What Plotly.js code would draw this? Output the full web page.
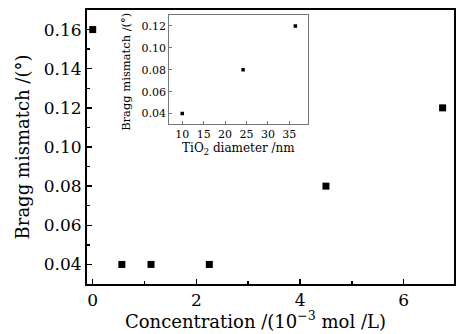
<!DOCTYPE html>
<html><head><meta charset="utf-8">
<script src="https://cdn.plot.ly/plotly-3.0.1.min.js"></script>
<style>html,body{margin:0;padding:0;background:#fff}</style>
</head><body><div id="chart" style="width:458px;height:334px"></div>
<script>
const concentration = [0, 0.5625, 1.125, 2.25, 4.5, 6.75];
const mismatchMain = [0.16, 0.04, 0.04, 0.04, 0.08, 0.12];
const diameter = [10, 24.2, 36.4];
const mismatchInset = [0.04, 0.08, 0.12];
const mainYTicks = [0.04, 0.06, 0.08, 0.10, 0.12, 0.14, 0.16];
const mainXTicks = [0, 2, 4, 6];
const insetYTicks = [0.04, 0.06, 0.08, 0.10, 0.12];
const insetXTicks = [10, 15, 20, 25, 30, 35];

const F = "DejaVu Serif, Liberation Serif, serif";
const traces = [
  {x: concentration, y: mismatchMain, type: 'scatter', mode: 'markers',
   marker: {symbol: 'square', size: 7, color: '#000'}, xaxis: 'x', yaxis: 'y', hoverinfo: 'none'},
  {x: diameter, y: mismatchInset, type: 'scatter', mode: 'markers',
   marker: {symbol: 'square', size: 3.5, color: '#000'}, xaxis: 'x2', yaxis: 'y2', hoverinfo: 'none'}
];
const layout = {
  width: 458, height: 334,
  margin: {l: 87, r: 4, t: 10, b: 50},
  paper_bgcolor: '#fff', plot_bgcolor: '#fff',
  showlegend: false,
  font: {family: F, color: '#000'},
  xaxis: {
    domain: [0, 1], range: [-0.11, 6.97],
    tickvals: mainXTicks, ticktext: mainXTicks.map(String),
    ticks: 'inside', ticklen: 5, tickwidth: 1.5, tickcolor: '#000',
    minor: {dtick: 1, ticks: 'inside', ticklen: 3, tickwidth: 1.5, tickcolor: '#000'},
    showline: true, linewidth: 2, linecolor: '#000', mirror: true,
    showgrid: false, zeroline: false,
    tickfont: {size: 17, family: F}
  },
  yaxis: {
    domain: [0, 1], range: [0.030, 0.170],
    tickvals: mainYTicks, ticktext: mainYTicks.map(v => v.toFixed(2)),
    ticks: 'inside', ticklen: 5, tickwidth: 1.5, tickcolor: '#000',
    minor: {dtick: 0.01, tick0: 0, ticks: 'inside', ticklen: 3, tickwidth: 1.5, tickcolor: '#000'},
    showline: true, linewidth: 2, linecolor: '#000', mirror: true,
    showgrid: false, zeroline: false,
    tickfont: {size: 17, family: F},
    title: {text: 'Bragg mismatch /(°)', font: {size: 18, family: F}, standoff: 9}
  },
  xaxis2: {
    domain: [0.224, 0.601], anchor: 'y2', range: [6.96, 39.25],
    tickvals: insetXTicks, ticktext: insetXTicks.map(String),
    ticks: 'inside', ticklen: 3, tickwidth: 1, tickcolor: '#777',
    showline: true, linewidth: 1, linecolor: '#777', mirror: true,
    showgrid: false, zeroline: false,
    tickfont: {size: 11, family: F},
    title: {text: 'TiO<sub>2</sub> diameter /nm', font: {size: 12, family: F}, standoff: 0}
  },
  yaxis2: {
    domain: [0.583, 0.982], anchor: 'x2', range: [0.0303, 0.130],
    tickvals: insetYTicks, ticktext: insetYTicks.map(v => v.toFixed(2)),
    ticks: 'inside', ticklen: 3, tickwidth: 1, tickcolor: '#777',
    showline: true, linewidth: 1, linecolor: '#777', mirror: true,
    showgrid: false, zeroline: false,
    tickfont: {size: 11, family: F}
  },
  annotations: [{
    text: 'Concentration /(10<sup>−3</sup> mol /L)', xref: 'paper', yref: 'paper',
    x: 0.459, y: -0.1825, xanchor: 'center', yanchor: 'bottom', showarrow: false,
    font: {size: 18, family: F, color: '#000'}
  }, {
    text: 'Bragg mismatch /(°)', xref: 'paper', yref: 'paper', textangle: -90,
    x: 0.106, y: 0.774, xanchor: 'center', yanchor: 'middle', showarrow: false,
    font: {size: 11.5, family: F, color: '#000'}
  }]
};
Plotly.newPlot('chart', traces, layout, {displayModeBar: false, staticPlot: true});
</script></body></html>
